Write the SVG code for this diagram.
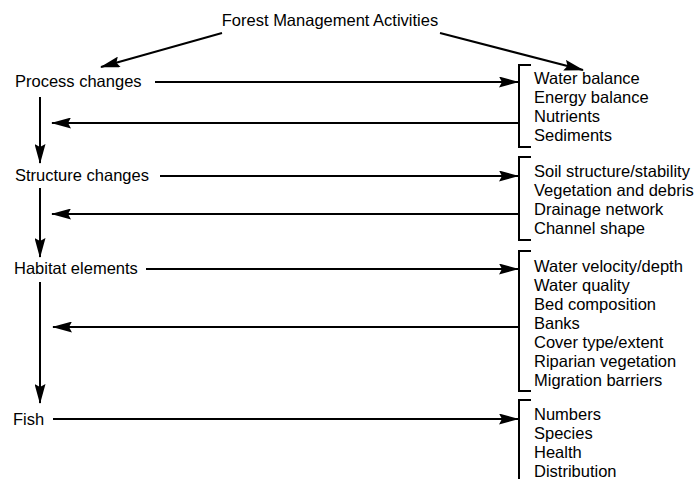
<svg xmlns="http://www.w3.org/2000/svg" width="696" height="479" viewBox="0 0 696 479">
<style>
text{font-family:"Liberation Sans",Arial,sans-serif;font-size:16.5px;fill:#000}
.c line{stroke:#000;stroke-width:2;fill:none}
.a{marker-end:url(#ah)}
.b{stroke:#000;stroke-width:2;fill:none}
</style>
<defs>
<marker id="ah" markerUnits="userSpaceOnUse" markerWidth="20" markerHeight="11" refX="19" refY="5.5" orient="auto">
<path d="M0,0 L20,5.5 L0,11 L3,5.5 z" fill="#000"/>
</marker>
</defs>
<rect width="696" height="479" fill="#fff"/>
<g id="title"><text x="330" y="26" text-anchor="middle">Forest Management Activities</text></g>
<g id="process"><text x="15" y="87">Process changes</text></g>
<g id="structure"><text x="15" y="181">Structure changes</text></g>
<g id="habitat"><text x="14" y="274">Habitat elements</text></g>
<g id="fish"><text x="13" y="425">Fish</text></g>
<g id="list1">
<path class="b" d="M531,65 H519 V147 H531"/>
<text x="534" y="84">Water balance</text>
<text x="534" y="103">Energy balance</text>
<text x="534" y="122">Nutrients</text>
<text x="534" y="141">Sediments</text>
</g>
<g id="list2">
<path class="b" d="M531,157 H519 V240 H531"/>
<text x="534" y="177">Soil structure/stability</text>
<text x="534" y="196">Vegetation and debris</text>
<text x="534" y="215">Drainage network</text>
<text x="534" y="234">Channel shape</text>
</g>
<g id="list3">
<path class="b" d="M531,251 H519 V391 H531"/>
<text x="534" y="272">Water velocity/depth</text>
<text x="534" y="291">Water quality</text>
<text x="534" y="310">Bed composition</text>
<text x="534" y="329">Banks</text>
<text x="534" y="348">Cover type/extent</text>
<text x="534" y="367">Riparian vegetation</text>
<text x="534" y="386">Migration barriers</text>
</g>
<g id="list4">
<path class="b" d="M531,400 H519 V479"/>
<text x="534" y="420">Numbers</text>
<text x="534" y="439">Species</text>
<text x="534" y="458">Health</text>
<text x="534" y="477">Distribution</text>
</g>
<g id="connectors" class="c">
<line class="a" x1="222" y1="33" x2="101" y2="67"/>
<line class="a" x1="440" y1="33" x2="583" y2="70"/>
<line class="a" x1="155" y1="82" x2="518" y2="82"/>
<line class="a" x1="519" y1="123" x2="52" y2="123"/>
<line class="a" x1="40" y1="97" x2="40" y2="163"/>
<line class="a" x1="160" y1="176" x2="518" y2="176"/>
<line class="a" x1="519" y1="214" x2="52" y2="214"/>
<line class="a" x1="40" y1="188" x2="40" y2="257"/>
<line class="a" x1="146" y1="269" x2="518" y2="269"/>
<line class="a" x1="519" y1="327" x2="53" y2="327"/>
<line class="a" x1="40" y1="282" x2="40" y2="403"/>
<line class="a" x1="53" y1="419" x2="518" y2="419"/>
</g>
</svg>
